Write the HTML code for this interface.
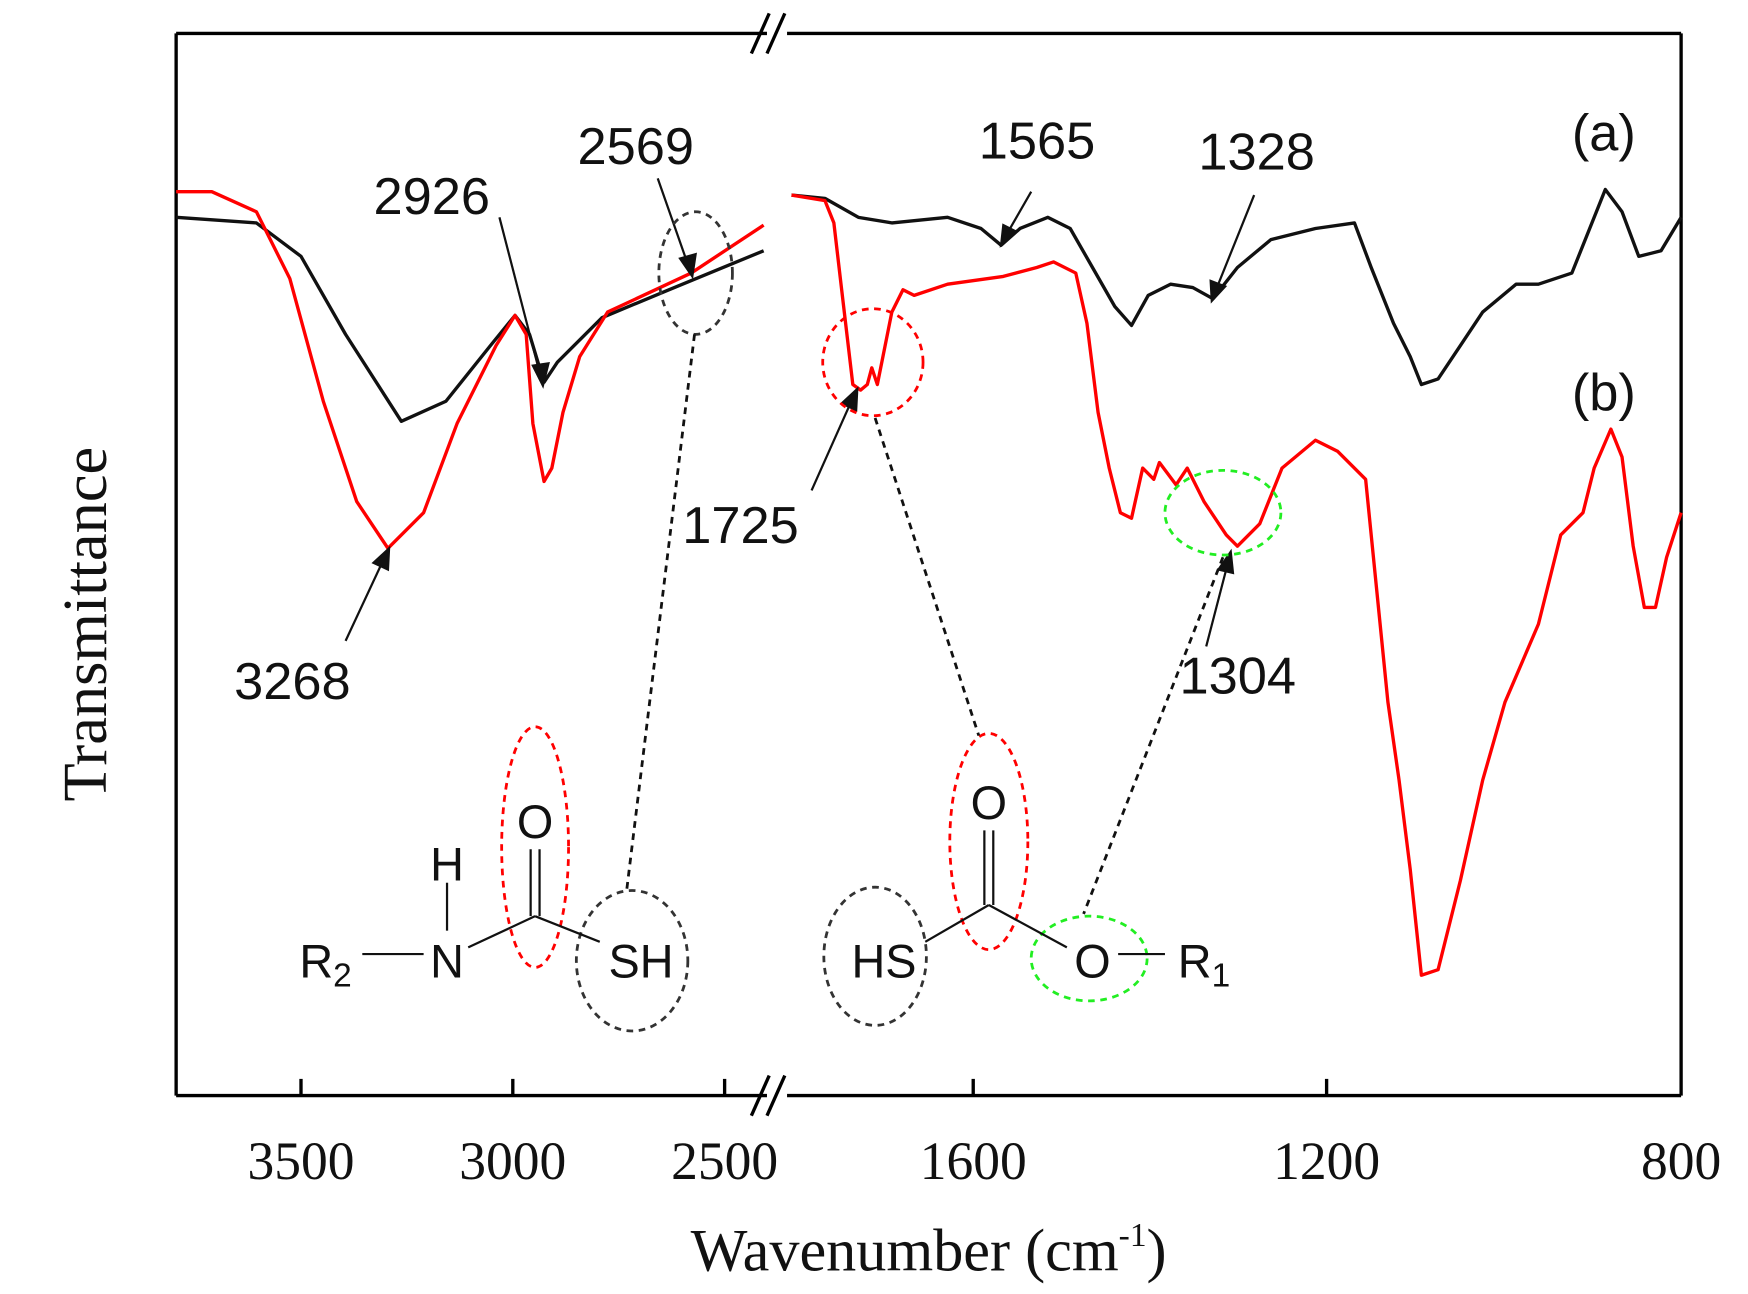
<!DOCTYPE html>
<html><head><style>html,body{margin:0;padding:0;background:#fff}svg{display:block}</style></head><body>
<svg width="1748" height="1294" viewBox="0 0 1568 1161" preserveAspectRatio="none" xmlns="http://www.w3.org/2000/svg">
<rect width="1568" height="1161" fill="#fff"/>
<g stroke="#000" stroke-width="3" fill="none">
<line x1="158" y1="30" x2="688" y2="30"/><line x1="706" y1="30" x2="1508" y2="30"/>
<line x1="158" y1="983" x2="688" y2="983"/><line x1="706" y1="983" x2="1508" y2="983"/>
<line x1="158" y1="30" x2="158" y2="983"/><line x1="1508" y1="30" x2="1508" y2="983"/>
<line x1="674" y1="48" x2="690" y2="12"/><line x1="688" y1="48" x2="704" y2="12"/>
<line x1="674" y1="1001" x2="690" y2="965"/><line x1="688" y1="1001" x2="704" y2="965"/>
<line x1="270" y1="983" x2="270" y2="968"/><line x1="460" y1="983" x2="460" y2="968"/><line x1="650" y1="983" x2="650" y2="968"/>
<line x1="873" y1="983" x2="873" y2="968"/><line x1="1190" y1="983" x2="1190" y2="968"/>
</g>
<g font-family="Liberation Serif, serif" font-size="48" text-anchor="middle" fill="#111">
<text x="270" y="1058">3500</text><text x="460" y="1058">3000</text><text x="650" y="1058">2500</text>
<text x="873" y="1058">1600</text><text x="1190" y="1058">1200</text><text x="1508" y="1058">800</text>
<text x="833" y="1140" font-size="54">Wavenumber (cm<tspan dy="-22" font-size="30">-1</tspan><tspan dy="22">)</tspan></text>
<text transform="translate(95,560) rotate(-90)" font-size="56">Transmittance</text>
</g>
<g fill="none" stroke-width="3" stroke-linejoin="round">
<polyline stroke="#111" points="158,195 230,200 270,230 310,300 360,378 400,360 440,310 462,283 475,300 488,343 500,325 540,285 600,260 685,225"/>
<polyline stroke="#f00" points="158,172 190,172 230,190 260,250 290,360 320,450 348,492 380,460 410,380 445,310 462,283 472,300 478,380 488,432 495,420 505,370 520,320 545,280 620,245 685,202"/>
<polyline stroke="#111" points="710,175 740,178 770,195 800,200 850,195 880,205 898,220 915,205 940,195 960,205 980,240 1000,275 1015,292 1030,265 1050,255 1070,258 1088,268 1110,240 1140,215 1180,205 1215,200 1230,240 1250,290 1265,320 1275,345 1290,340 1310,310 1330,280 1360,255 1380,255 1410,245 1440,170 1455,190 1470,230 1490,225 1508,195"/>
<polyline stroke="#f00" points="710,175 740,180 748,200 755,260 765,345 772,350 778,345 782,330 787,345 792,320 800,280 810,260 820,265 850,255 900,248 930,240 945,235 965,245 975,290 985,370 995,420 1005,460 1015,465 1025,420 1035,430 1040,415 1055,435 1065,420 1080,450 1100,480 1110,490 1130,470 1150,420 1180,395 1200,405 1225,430 1235,530 1245,630 1255,700 1265,780 1275,875 1290,870 1310,790 1330,700 1350,630 1380,560 1400,480 1410,470 1420,460 1430,420 1445,385 1455,410 1465,490 1475,545 1485,545 1495,500 1508,460"/>
</g>
<g font-family="Liberation Sans, sans-serif" font-size="47" fill="#111">
<text x="1410" y="135">(a)</text><text x="1410" y="368">(b)</text>
<text x="335" y="192">2926</text><text x="518" y="147">2569</text><text x="878" y="142">1565</text><text x="1075" y="152">1328</text>
<text x="612" y="487">1725</text><text x="1058" y="622">1304</text><text x="210" y="627">3268</text>
</g>
<g stroke="#111" stroke-width="2" fill="#111">
<line x1="448" y1="195" x2="485" y2="338"/><polygon points="487,346 478,328 492,326"/>
<line x1="590" y1="160" x2="618" y2="240"/><polygon points="621,248 610,232 624,228"/>
<line x1="925" y1="172" x2="902" y2="212"/><polygon points="898,220 900,202 912,208"/>
<line x1="1125" y1="175" x2="1090" y2="262"/><polygon points="1087,270 1086,252 1099,257"/>
<line x1="728" y1="440" x2="765" y2="357"/><polygon points="769,349 768,368 755,362"/>
<line x1="1082" y1="580" x2="1102" y2="503"/><polygon points="1104,495 1106,514 1093,511"/>
<line x1="310" y1="575" x2="345" y2="500"/><polygon points="349,492 348,511 335,505"/>
</g>
<g fill="none" stroke-width="2.5" stroke-dasharray="6,5">
<ellipse cx="624" cy="245" rx="33" ry="55" stroke="#333"/>
<ellipse cx="783" cy="325" rx="45" ry="48" stroke="#f00"/>
<ellipse cx="1097" cy="460" rx="52" ry="38" stroke="#2e2"/>
<ellipse cx="480" cy="760" rx="30" ry="108" stroke="#f00"/>
<ellipse cx="567" cy="862" rx="50" ry="63" stroke="#333"/>
<ellipse cx="887" cy="755" rx="35" ry="97" stroke="#f00"/>
<ellipse cx="785" cy="858" rx="46" ry="62" stroke="#333"/>
<ellipse cx="977" cy="860" rx="52" ry="38" stroke="#2e2"/>
<line x1="623" y1="300" x2="562" y2="800" stroke="#111"/>
<line x1="785" y1="375" x2="878" y2="660" stroke="#111"/>
<line x1="1097" y1="500" x2="972" y2="820" stroke="#111"/>
</g>
<g stroke="#111" stroke-width="2">
<line x1="325" y1="856" x2="380" y2="856"/><line x1="401" y1="792" x2="401" y2="835"/>
<line x1="420" y1="850" x2="480" y2="822"/><line x1="480" y1="822" x2="538" y2="845"/>
<line x1="476" y1="762" x2="476" y2="822"/><line x1="484" y1="762" x2="484" y2="822"/>
<line x1="830" y1="845" x2="887" y2="812"/><line x1="887" y1="812" x2="957" y2="850"/>
<line x1="883" y1="745" x2="883" y2="812"/><line x1="891" y1="745" x2="891" y2="812"/>
<line x1="1003" y1="856" x2="1045" y2="856"/>
</g>
<g font-family="Liberation Sans, sans-serif" font-size="42" fill="#111" text-anchor="middle">
<text x="292" y="877">R<tspan font-size="30" dy="8">2</tspan></text>
<text x="401" y="877">N</text><text x="401" y="790">H</text>
<text x="480" y="752">O</text><text x="575" y="877">SH</text>
<text x="793" y="877">HS</text><text x="887" y="735">O</text>
<text x="980" y="877">O</text><text x="1080" y="877">R<tspan font-size="30" dy="8">1</tspan></text>
</g>
</svg>
</body></html>
